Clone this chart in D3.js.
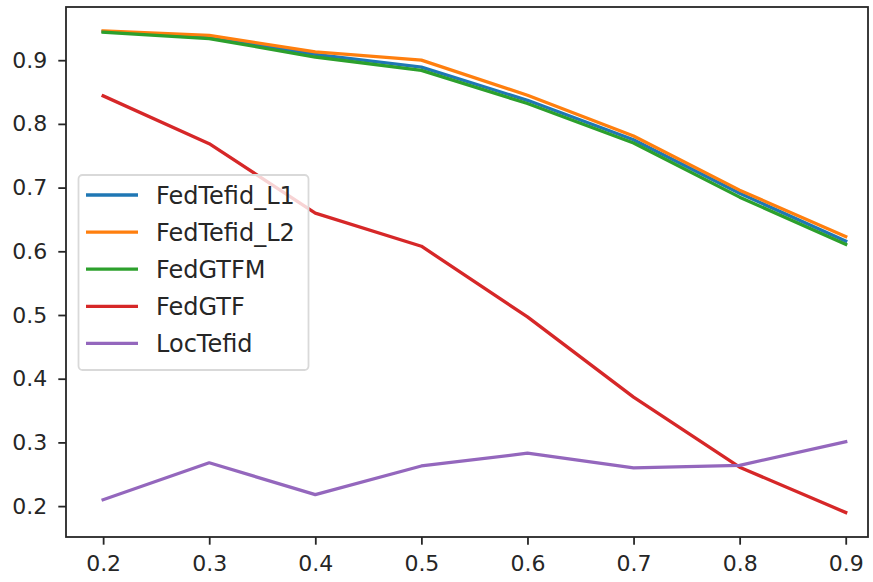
<!DOCTYPE html>
<html>
<head>
<meta charset="utf-8">
<script src="https://cdn.jsdelivr.net/npm/d3@7"></script>
<style>
  html, body { margin: 0; padding: 0; background: #fff; }
  svg { display: block; }
  text { font-family: "DejaVu Sans", sans-serif; fill: #262626; }
</style>
</head>
<body>
<svg id="chart" width="873" height="582"></svg>
<script>
// ---- data ----
const xValues = [0.2, 0.3, 0.4, 0.5, 0.6, 0.7, 0.8, 0.9];
const seriesNames = ["FedTefid_L1", "FedTefid_L2", "FedGTFM", "FedGTF", "LocTefid"];
const fedTefidL1 = [0.945, 0.937, 0.909, 0.889, 0.837, 0.775, 0.691, 0.616];
const fedTefidL2 = [0.946, 0.939, 0.913, 0.900, 0.845, 0.781, 0.696, 0.623];
const fedGTFM    = [0.944, 0.934, 0.905, 0.884, 0.832, 0.770, 0.685, 0.611];
const fedGTF     = [0.844, 0.769, 0.660, 0.608, 0.497, 0.371, 0.261, 0.190];
const locTefid   = [0.210, 0.268, 0.218, 0.263, 0.283, 0.260, 0.264, 0.301];
const xTicks = [0.2, 0.3, 0.4, 0.5, 0.6, 0.7, 0.8, 0.9];
const yTicks = [0.2, 0.3, 0.4, 0.5, 0.6, 0.7, 0.8, 0.9];
const colors = ["#1f77b4", "#ff7f0e", "#2ca02c", "#d62728", "#9467bd"];

const allSeries = [fedTefidL1, fedTefidL2, fedGTFM, fedGTF, locTefid];

// ---- layout ----
const svg = d3.select("#chart");
const pLeft = 66, pRight = 868, pTop = 7, pBottom = 537;

const x = d3.scaleLinear().domain([0.165, 0.921]).range([pLeft, pRight]);
const y = d3.scaleLinear().domain([0.1515, 0.9835]).range([pBottom, pTop]);

svg.append("defs").append("clipPath").attr("id", "clip")
  .append("rect").attr("x", pLeft).attr("y", pTop).attr("width", pRight - pLeft).attr("height", pBottom - pTop);

// lines
const line = d3.line().x((d, i) => x(xValues[i])).y(d => y(d));
const plot = svg.append("g").attr("clip-path", "url(#clip)");
allSeries.forEach((s, k) => {
  plot.append("path")
    .datum(s)
    .attr("fill", "none")
    .attr("stroke", colors[k])
    .attr("stroke-width", 3.3)
    .attr("stroke-linejoin", "round")
    .attr("stroke-linecap", "square")
    .attr("d", line);
});

// axes
const xAxis = d3.axisBottom(x).tickValues(xTicks).tickFormat(d3.format(".1f")).tickSize(7.7).tickPadding(11);
const yAxis = d3.axisLeft(y).tickValues(yTicks).tickFormat(d3.format(".1f")).tickSize(7.7).tickPadding(11);

const gx = svg.append("g").attr("transform", `translate(0,${pBottom})`).call(xAxis);
const gy = svg.append("g").attr("transform", `translate(${pLeft},0)`).call(yAxis);
[gx, gy].forEach(g => {
  g.select(".domain").remove();
  g.selectAll(".tick line").attr("stroke", "#262626").attr("stroke-width", 1.8);
  g.selectAll(".tick text").attr("font-size", 22).attr("font-family", "DejaVu Sans, sans-serif").attr("fill", "#262626");
});

// frame
svg.append("rect")
  .attr("x", pLeft).attr("y", pTop).attr("width", pRight - pLeft).attr("height", pBottom - pTop)
  .attr("fill", "none").attr("stroke", "#262626").attr("stroke-width", 1.8);

// legend
const lg = svg.append("g");
lg.append("rect")
  .attr("x", 78.5).attr("y", 175).attr("width", 230).attr("height", 195)
  .attr("rx", 4).attr("ry", 4)
  .attr("fill", "#fff").attr("fill-opacity", 0.8)
  .attr("stroke", "#d9d9d9").attr("stroke-width", 1.8);
seriesNames.forEach((name, k) => {
  const cy = 195 + k * 37.1;
  lg.append("line")
    .attr("x1", 86).attr("x2", 138).attr("y1", cy).attr("y2", cy)
    .attr("stroke", colors[k]).attr("stroke-width", 3.3);
  lg.append("text")
    .attr("x", 156).attr("y", cy).attr("dy", "0.36em")
    .attr("font-size", 24)
    .text(name);
});
</script>
</body>
</html>
